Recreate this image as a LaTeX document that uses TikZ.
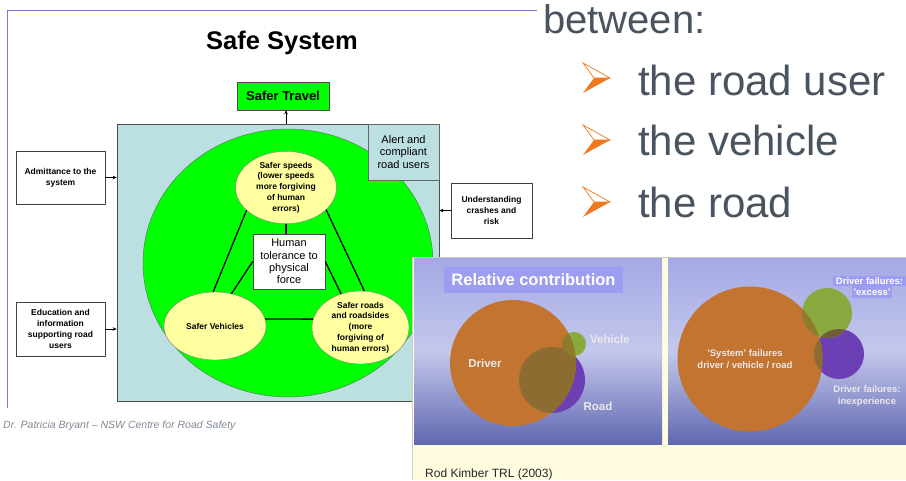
\documentclass[tikz,border=0pt]{standalone}
\usepackage{fontspec}
\setmainfont{Liberation Sans}
\usetikzlibrary{shapes.geometric,arrows.meta}
\definecolor{sysblue}{RGB}{188,223,226}
\definecolor{fieldgreen}{RGB}{0,255,0}
\definecolor{paleyellow}{RGB}{255,255,160}
\definecolor{framelav}{RGB}{120,120,210}
\definecolor{slate}{RGB}{74,84,96}
\definecolor{bulletor}{RGB}{240,120,30}
\definecolor{footgrey}{RGB}{128,138,150}
\definecolor{paneltop}{RGB}{164,168,228}
\definecolor{panelmid}{RGB}{196,200,236}
\definecolor{panelbot}{RGB}{96,104,176}
\definecolor{cream}{RGB}{255,252,224}
\definecolor{drvorange}{RGB}{194,116,48}
\definecolor{olivebrown}{RGB}{140,108,48}
\definecolor{olivegreen}{RGB}{140,124,44}
\definecolor{mudbrown}{RGB}{112,92,56}
\definecolor{vehgreen}{RGB}{138,170,64}
\definecolor{roadpurple}{RGB}{108,64,180}
\definecolor{labellav}{RGB}{156,156,240}
\definecolor{paneltext}{RGB}{236,232,236}
\begin{document}
\begin{tikzpicture}[x=1pt,y=-1pt,
  plainbox/.style={draw=black!75, line width=0.6pt, fill=white, align=center, inner sep=0pt,
    font=\fontsize{8.5}{10.7}\selectfont\bfseries},
  oval/.style={ellipse, draw=black!50, line width=0.4pt, fill=paleyellow, inner sep=0pt, align=center,
    font=\fontsize{8.5}{10.8}\selectfont\bfseries},
  link/.style={line width=1.3pt},
  feed/.style={-{Stealth[length=4pt,width=3.5pt]}, line width=0.8pt},
  bigtext/.style={font=\fontsize{42}{44}\selectfont, text=slate, anchor=base west, inner sep=0pt},
  paneltxt/.style={text=paneltext, font=\fontsize{11.5}{13}\selectfont\bfseries, inner sep=0pt, align=center},
  lavlabel/.style={fill=labellav, text=white, inner sep=0pt}
]
\useasboundingbox (0,0) rectangle (906,480);
\fill[white] (0,0) rectangle (906,480);

% frame lines
\draw[framelav, line width=0.8pt] (537,10) -- (7,10) -- (7,408);

% title
\node[anchor=base, font=\fontsize{25.5}{27}\selectfont\bfseries, inner sep=0pt] (title) at (282,49) {Safe System};

% Safer Travel
\node[draw=black!70, fill=fieldgreen, minimum width=92pt, minimum height=28pt, inner sep=0pt,
      font=\fontsize{13}{15}\selectfont\bfseries] (travel) at (283,96) {Safer Travel};

% system rectangle and field
\node[draw=black!70, line width=0.6pt, fill=sysblue, minimum width=322pt, minimum height=277pt, inner sep=0pt] (sys) at (278,262.5) {};
\node[ellipse, draw=black!60, line width=0.4pt, fill=fieldgreen, minimum width=290pt, minimum height=268pt, inner sep=0pt] (field) at (288,263) {};

% alert box
\node[draw=black!60, line width=0.6pt, fill=sysblue, minimum width=71pt, minimum height=56pt, inner sep=0pt, align=center,
      font=\fontsize{11}{12.5}\selectfont] (alert) at (403.5,152) {Alert and\\compliant\\road users};

% ovals and centre box
\node[oval, minimum width=101pt, minimum height=67pt] (speeds) at (286,187.5) {Safer speeds\\(lower speeds\\more forgiving\\of human\\errors)};
\node[draw=black!70, line width=0.6pt, fill=white, minimum width=72pt, minimum height=55pt, inner sep=0pt, align=center,
      font=\fontsize{11}{12.3}\selectfont] (human) at (289,261.5) {Human\\tolerance to\\physical\\force};
\node[oval, minimum width=102pt, minimum height=68pt] (veh) at (215,326) {Safer Vehicles};
\node[oval, minimum width=97pt, minimum height=73pt] (roads) at (360.5,327.5) {Safer roads\\and roadsides\\(more\\forgiving of\\human errors)};

% links
\draw[link] (speeds.210) -- (veh.93);
\draw[link] (speeds.331) -- (roads.84);
\draw[link] (human.west) -- (veh.63);
\draw[link] (human.east) -- (roads.120);
\draw[link] (speeds.south) -- (human.north -| speeds.south);
\draw[link] (veh.8) -- (roads.170);

% side boxes
\node[plainbox, minimum width=89pt, minimum height=53pt] (adm) at (60.5,177.5) {Admittance to the\\system};
\node[plainbox, minimum width=89pt, minimum height=54pt] (edu) at (60.5,329) {Education and\\information\\supporting road\\users};
\node[plainbox, minimum width=81pt, minimum height=55pt] (und) at (491.5,210.5) {Understanding\\crashes and\\risk};

\draw[feed] (adm.east) -- (adm.east -| sys.west);
\draw[feed] (edu.east) -- (edu.east -| sys.west);
\draw[feed] (und.west) -- (und.west -| sys.east);
\draw[feed] (sys.north -| speeds.north) -- (travel.south -| speeds.north);

% footer
\node[anchor=west, font=\fontsize{10.5}{12}\selectfont\itshape, text=footgrey, inner sep=0pt] (foot) at (3,426) {Dr. Patricia Bryant – NSW Centre for Road Safety};

% right text
\node[bigtext, font=\fontsize{40}{44}\selectfont] (between) at (543,33) {between:};
\node[bigtext] (b1) at (638,95) {the road user};
\node[bigtext] (b2) at (638,155) {the vehicle};
\node[bigtext] (b3) at (638,217) {the road};
\foreach \yc in {78,140,202} {
  \fill[bulletor] (583,\yc+15) -- (610,\yc) -- (594,\yc) -- cycle;
  \draw[bulletor, line width=0.7pt, line join=miter] (583,\yc-15) -- (610,\yc) -- (594,\yc) -- cycle;
}

% photo
\fill[cream] (412,257) rectangle (906,480);
\draw[black!20, line width=0.6pt] (412,480) -- (412,257) -- (906,257);
\shade[top color=paneltop, bottom color=panelbot, middle color=panelmid] (414,258) rectangle (662,444);
\shade[top color=paneltop, bottom color=panelbot, middle color=panelmid] (668,258) rectangle (906,444);

\node[lavlabel, font=\fontsize{16.5}{18}\selectfont\bfseries, minimum width=179pt, minimum height=26pt] (rel) at (533.5,280) {Relative contribution};

% left panel circles
\fill[roadpurple] (552,380) circle[radius=33pt];
\fill[vehgreen] (574,344) circle[radius=12pt];
\fill[drvorange] (513,363) circle[radius=63pt];
\begin{scope}
  \clip (513,363) circle[radius=63pt];
  \fill[olivebrown] (552,380) circle[radius=33pt];
  \fill[olivegreen] (574,344) circle[radius=12pt];
\end{scope}
\node[paneltxt] (drv) at (485,363) {Driver};
\node[paneltxt] (vehl) at (610,339) {Vehicle};
\node[paneltxt] (roadl) at (598,406) {Road};

% right panel circles
\fill[roadpurple] (839,354) circle[radius=25pt];
\fill[vehgreen] (827,313) circle[radius=25pt];
\begin{scope}
  \clip (827,313) circle[radius=25pt];
  \fill[mudbrown] (839,354) circle[radius=25pt];
\end{scope}
\fill[drvorange] (750,359) circle[radius=72.5pt];
\begin{scope}
  \clip (750,359) circle[radius=72.5pt];
  \fill[olivegreen] (827,313) circle[radius=25pt];
  \fill[olivebrown] (839,354) circle[radius=25pt];
\end{scope}
\node[paneltxt, font=\fontsize{9.5}{12}\selectfont\bfseries] (sysf) at (745,359) {'System' failures\\driver / vehicle / road};
\node[lavlabel, font=\fontsize{9.5}{11}\selectfont\bfseries, minimum width=73pt, minimum height=10pt] (dfx) at (869.5,281) {Driver failures:};
\node[lavlabel, font=\fontsize{9.5}{11}\selectfont\bfseries, minimum width=40pt, minimum height=12pt] (exc) at (872,292) {'excess'};
\node[paneltxt, font=\fontsize{9.5}{12}\selectfont\bfseries] (dfi) at (867,396.5) {Driver failures:\\inexperience};

\node[anchor=base west, font=\fontsize{12}{14}\selectfont, text=black!85, inner sep=0pt] (rod) at (425,477) {Rod Kimber TRL (2003)};
\end{tikzpicture}
\end{document}
